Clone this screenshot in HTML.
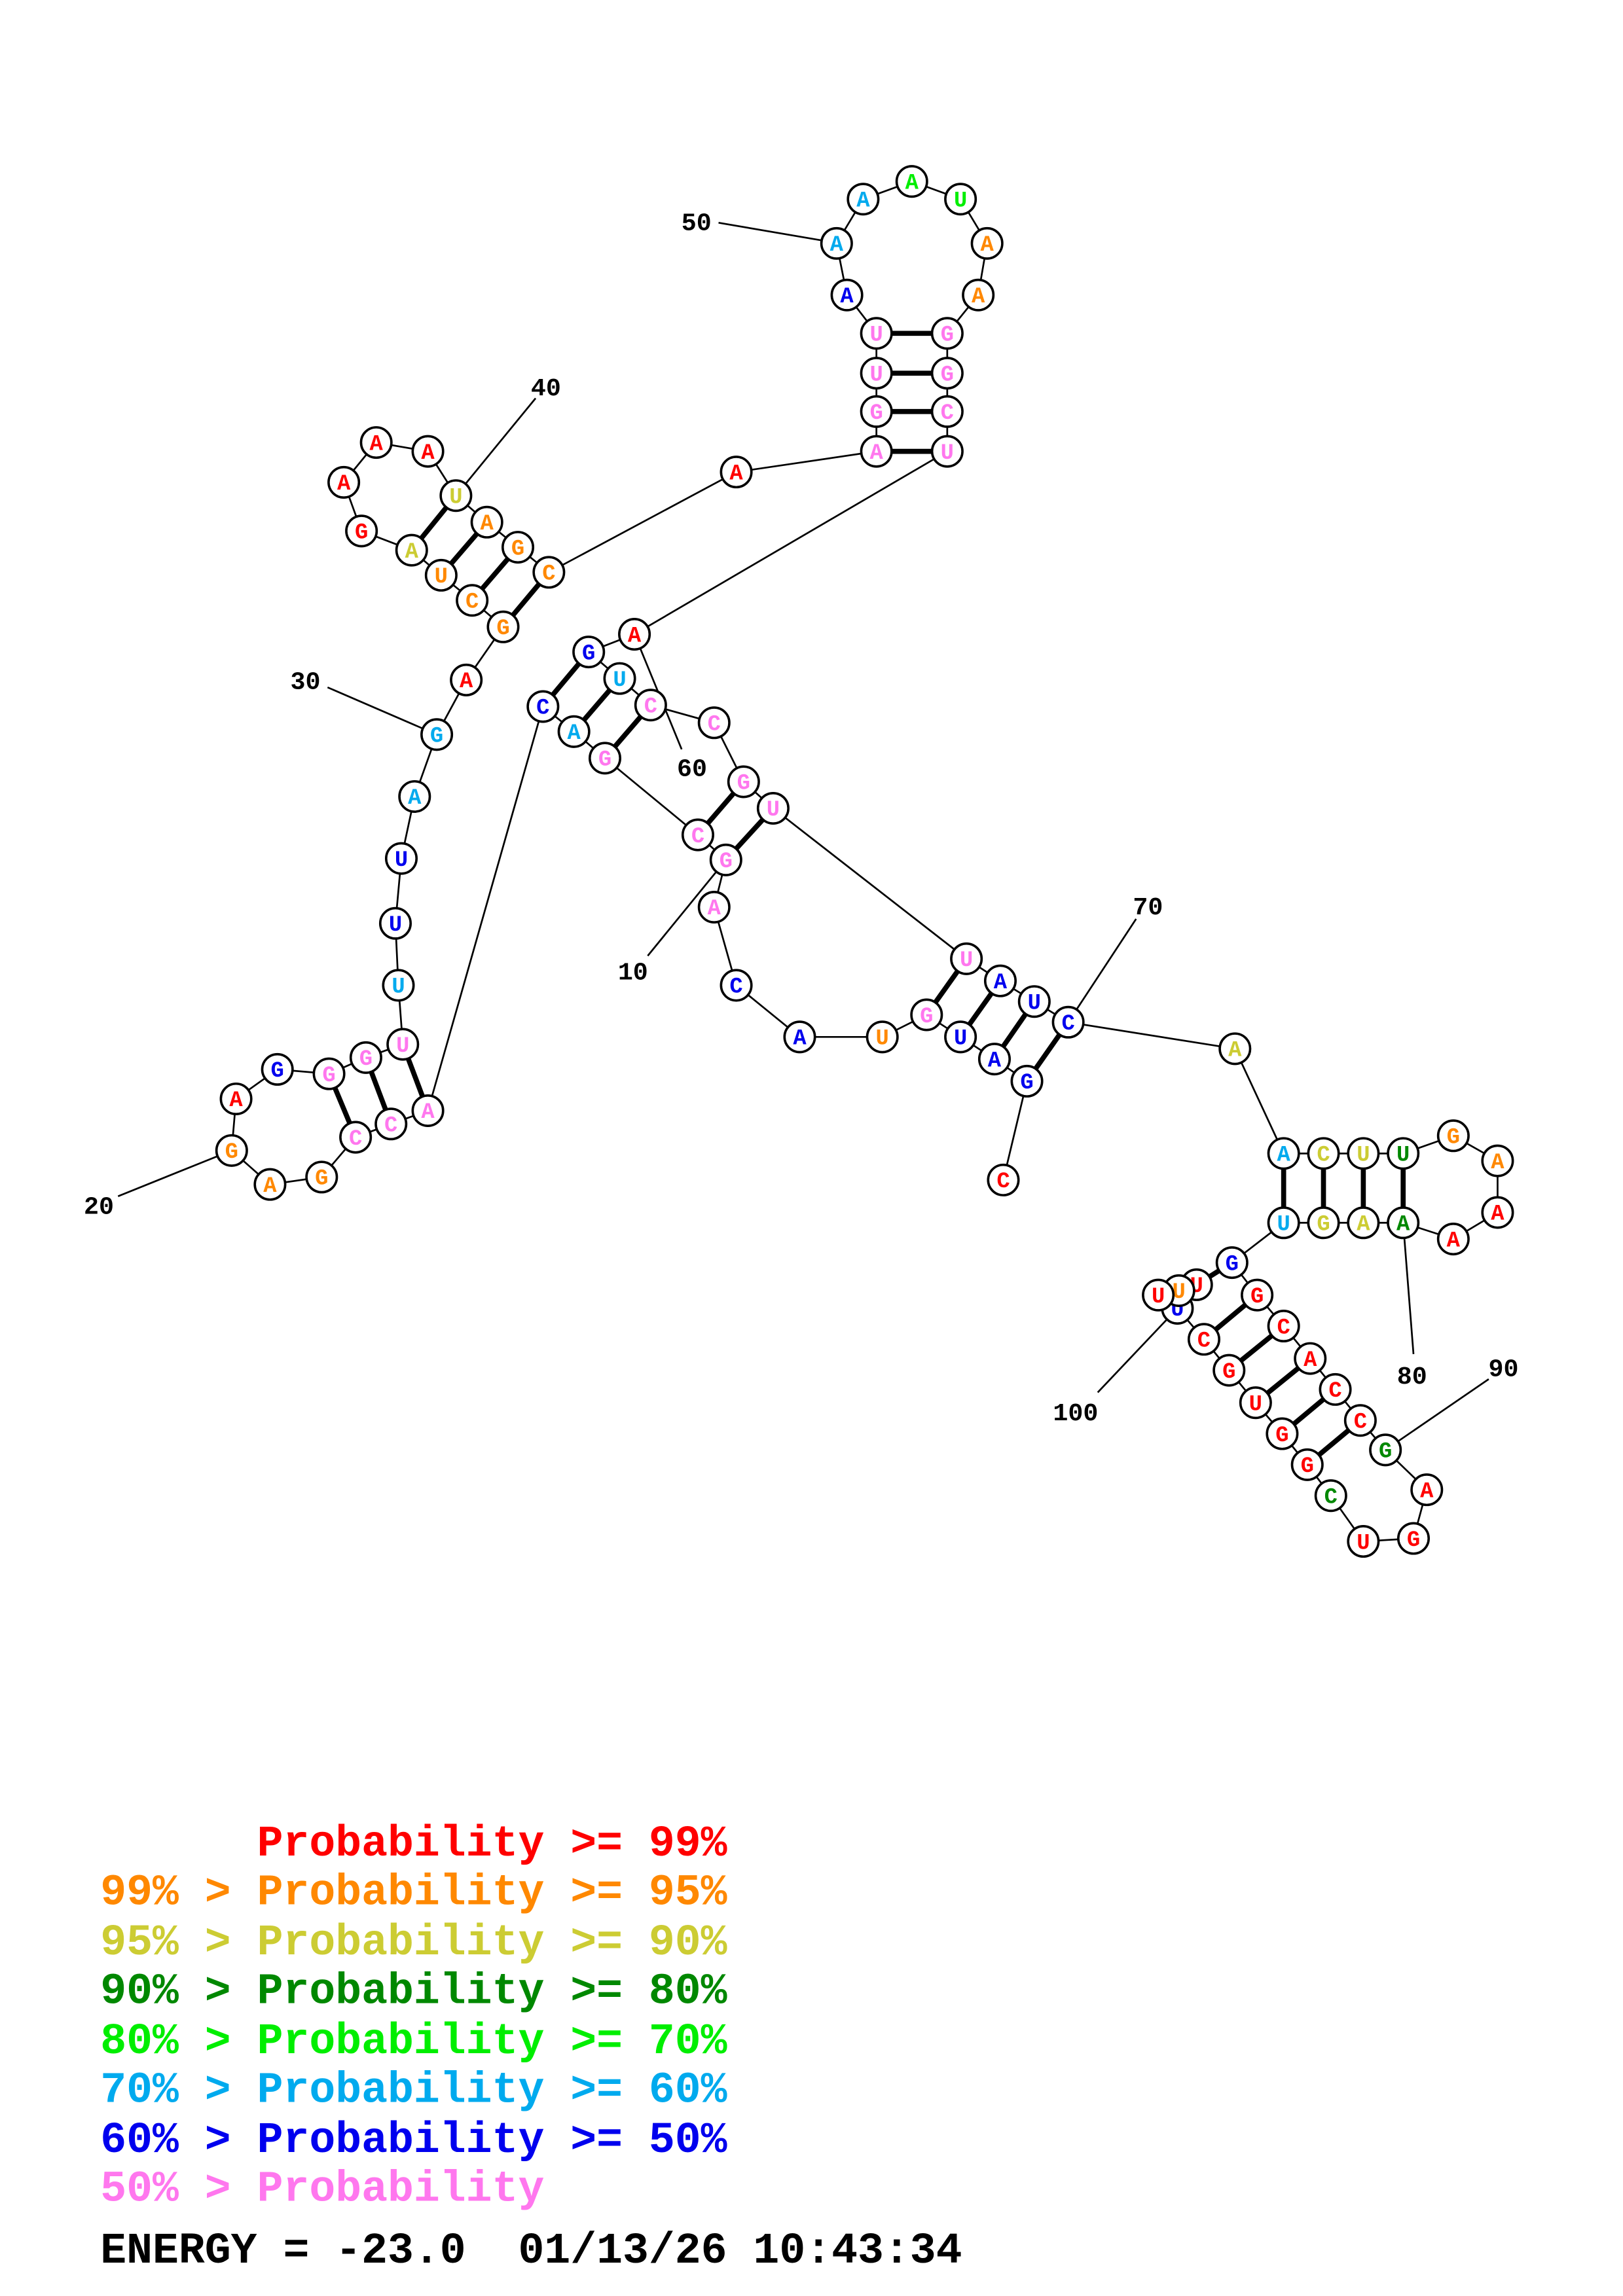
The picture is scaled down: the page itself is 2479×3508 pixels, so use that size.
<!DOCTYPE html>
<html><head><meta charset="utf-8"><style>
html,body{margin:0;padding:0;background:#fff}
svg{display:block}
.n circle{fill:#fff;stroke:#000;stroke-width:1.6}
.n text{font-family:"Liberation Mono",monospace;font-weight:bold;font-size:15px;text-anchor:middle}
.lb{font-family:"Liberation Mono",monospace;font-weight:bold;font-size:17px;text-anchor:middle;fill:#000}
.lg{font-family:"Liberation Mono",monospace;font-weight:bold;font-size:29.5px}
</style></head><body>
<svg width="2479" height="3508" viewBox="0 0 1100 1556.6" xmlns="http://www.w3.org/2000/svg">
<rect width="1100" height="1556.6" fill="#fff"/>
<g transform="translate(-3,-2)">
<g stroke="#000" stroke-width="1.2" fill="none">
<polyline points="683,802 699,735 677,720 654,705 631,690 601,705 545,705 502,670 487,617 495,585 476,568 413,516 392,498 371,481 293,755 268,764 244,773 221,800 186,805 160,782 163,747 191,727 226,730 251,719 276,710 273,670 271,628 275,584 284,542 299,500 319,463 344,427 323,409 302,392 282,375 248,362 236,329 258,302 293,308 312,338 333,356 354,373 375,390 502,322 597,308 597,281 597,255 597,228 577,202 570,167 588,137 621,125 654,137 672,167 666,202 645,228 645,255 645,281 645,308 433,432 402,444 423,462 444,480 487,492 507,532 527,550 658,652 681,667 704,681 727,695 840,713 873,784 900,784 927,784 954,784 988,772 1018,789 1018,824 988,842 954,831 927,831 900,831 873,831 838,858 855,880 873,901 891,923 908,944 925,965 942,985 970,1012 961,1045 927,1047 905,1016 889,995 872,974 854,953 836,931 819,910 801,889 788,880 802,877 814,873"/>
<line x1="490" y1="153" x2="560" y2="165"/>
<line x1="366" y1="272" x2="312" y2="338"/>
<line x1="225" y1="468" x2="299" y2="500"/>
<line x1="83" y1="813" x2="160" y2="782"/>
<line x1="442" y1="650" x2="495" y2="585"/>
<line x1="465" y1="510" x2="433" y2="432"/>
<line x1="773" y1="625" x2="727" y2="695"/>
<line x1="961" y1="920" x2="954" y2="831"/>
<line x1="1012" y1="937" x2="942" y2="985"/>
<line x1="747" y1="946" x2="801" y2="889"/>
</g>
<g stroke="#000" stroke-width="3.4">
<line x1="312" y1="338" x2="282" y2="375"/><line x1="333" y1="356" x2="302" y2="392"/><line x1="354" y1="373" x2="323" y2="409"/><line x1="375" y1="390" x2="344" y2="427"/>
<line x1="597" y1="308" x2="645" y2="308"/><line x1="597" y1="281" x2="645" y2="281"/><line x1="597" y1="255" x2="645" y2="255"/><line x1="597" y1="228" x2="645" y2="228"/>
<line x1="413" y1="516" x2="444" y2="480"/><line x1="392" y1="498" x2="423" y2="462"/><line x1="371" y1="481" x2="402" y2="444"/>
<line x1="495" y1="585" x2="527" y2="550"/><line x1="476" y1="568" x2="507" y2="532"/>
<line x1="699" y1="735" x2="727" y2="695"/><line x1="677" y1="720" x2="704" y2="681"/><line x1="654" y1="705" x2="681" y2="667"/><line x1="631" y1="690" x2="658" y2="652"/>
<line x1="293" y1="755" x2="276" y2="710"/><line x1="268" y1="764" x2="251" y2="719"/><line x1="244" y1="773" x2="226" y2="730"/>
<line x1="873" y1="784" x2="873" y2="831"/><line x1="900" y1="784" x2="900" y2="831"/><line x1="927" y1="784" x2="927" y2="831"/><line x1="954" y1="784" x2="954" y2="831"/>
<line x1="855" y1="880" x2="819" y2="910"/><line x1="873" y1="901" x2="836" y2="931"/><line x1="891" y1="923" x2="854" y2="953"/><line x1="908" y1="944" x2="872" y2="974"/><line x1="925" y1="965" x2="889" y2="995"/>
<line x1="838" y1="858" x2="814" y2="873"/>
</g>
<g class="n">
<g fill="#f00"><circle cx="683" cy="802" r="10.3"/><text x="683" y="807" >C</text></g>
<g fill="#00e"><circle cx="699" cy="735" r="10.3"/><text x="699" y="740">G</text></g>
<g fill="#00e"><circle cx="677" cy="720" r="10.3"/><text x="677" y="725">A</text></g>
<g fill="#00e"><circle cx="654" cy="705" r="10.3"/><text x="654" y="710">U</text></g>
<g fill="#f7e"><circle cx="631" cy="690" r="10.3"/><text x="631" y="695">G</text></g>
<g fill="#f80"><circle cx="601" cy="705" r="10.3"/><text x="601" y="710">U</text></g>
<g fill="#00e"><circle cx="545" cy="705" r="10.3"/><text x="545" y="710">A</text></g>
<g fill="#00e"><circle cx="502" cy="670" r="10.3"/><text x="502" y="675">C</text></g>
<g fill="#f7e"><circle cx="487" cy="617" r="10.3"/><text x="487" y="622">A</text></g>
<g fill="#f7e"><circle cx="495" cy="585" r="10.3"/><text x="495" y="590">G</text></g>
<g fill="#f7e"><circle cx="476" cy="568" r="10.3"/><text x="476" y="573">C</text></g>
<g fill="#f7e"><circle cx="413" cy="516" r="10.3"/><text x="413" y="521">G</text></g>
<g fill="#0ae"><circle cx="392" cy="498" r="10.3"/><text x="392" y="503">A</text></g>
<g fill="#00e"><circle cx="371" cy="481" r="10.3"/><text x="371" y="486">C</text></g>
<g fill="#f7e"><circle cx="293" cy="755" r="10.3"/><text x="293" y="760">A</text></g>
<g fill="#f7e"><circle cx="268" cy="764" r="10.3"/><text x="268" y="769">C</text></g>
<g fill="#f7e"><circle cx="244" cy="773" r="10.3"/><text x="244" y="778">C</text></g>
<g fill="#f80"><circle cx="221" cy="800" r="10.3"/><text x="221" y="805">G</text></g>
<g fill="#f80"><circle cx="186" cy="805" r="10.3"/><text x="186" y="810">A</text></g>
<g fill="#f80"><circle cx="160" cy="782" r="10.3"/><text x="160" y="787">G</text></g>
<g fill="#f00"><circle cx="163" cy="747" r="10.3"/><text x="163" y="752">A</text></g>
<g fill="#00e"><circle cx="191" cy="727" r="10.3"/><text x="191" y="732">G</text></g>
<g fill="#f7e"><circle cx="226" cy="730" r="10.3"/><text x="226" y="735">G</text></g>
<g fill="#f7e"><circle cx="251" cy="719" r="10.3"/><text x="251" y="724">G</text></g>
<g fill="#f7e"><circle cx="276" cy="710" r="10.3"/><text x="276" y="715">U</text></g>
<g fill="#0ae"><circle cx="273" cy="670" r="10.3"/><text x="273" y="675">U</text></g>
<g fill="#00e"><circle cx="271" cy="628" r="10.3"/><text x="271" y="633">U</text></g>
<g fill="#00e"><circle cx="275" cy="584" r="10.3"/><text x="275" y="589">U</text></g>
<g fill="#0ae"><circle cx="284" cy="542" r="10.3"/><text x="284" y="547">A</text></g>
<g fill="#0ae"><circle cx="299" cy="500" r="10.3"/><text x="299" y="505">G</text></g>
<g fill="#f00"><circle cx="319" cy="463" r="10.3"/><text x="319" y="468">A</text></g>
<g fill="#f80"><circle cx="344" cy="427" r="10.3"/><text x="344" y="432">G</text></g>
<g fill="#f80"><circle cx="323" cy="409" r="10.3"/><text x="323" y="414">C</text></g>
<g fill="#f80"><circle cx="302" cy="392" r="10.3"/><text x="302" y="397">U</text></g>
<g fill="#cc3"><circle cx="282" cy="375" r="10.3"/><text x="282" y="380">A</text></g>
<g fill="#f00"><circle cx="248" cy="362" r="10.3"/><text x="248" y="367">G</text></g>
<g fill="#f00"><circle cx="236" cy="329" r="10.3"/><text x="236" y="334">A</text></g>
<g fill="#f00"><circle cx="258" cy="302" r="10.3"/><text x="258" y="307">A</text></g>
<g fill="#f00"><circle cx="293" cy="308" r="10.3"/><text x="293" y="313">A</text></g>
<g fill="#cc3"><circle cx="312" cy="338" r="10.3"/><text x="312" y="343">U</text></g>
<g fill="#f80"><circle cx="333" cy="356" r="10.3"/><text x="333" y="361">A</text></g>
<g fill="#f80"><circle cx="354" cy="373" r="10.3"/><text x="354" y="378">G</text></g>
<g fill="#f80"><circle cx="375" cy="390" r="10.3"/><text x="375" y="395">C</text></g>
<g fill="#f00"><circle cx="502" cy="322" r="10.3"/><text x="502" y="327">A</text></g>
<g fill="#f7e"><circle cx="597" cy="308" r="10.3"/><text x="597" y="313">A</text></g>
<g fill="#f7e"><circle cx="597" cy="281" r="10.3"/><text x="597" y="286">G</text></g>
<g fill="#f7e"><circle cx="597" cy="255" r="10.3"/><text x="597" y="260">U</text></g>
<g fill="#f7e"><circle cx="597" cy="228" r="10.3"/><text x="597" y="233">U</text></g>
<g fill="#00e"><circle cx="577" cy="202" r="10.3"/><text x="577" y="207">A</text></g>
<g fill="#0ae"><circle cx="570" cy="167" r="10.3"/><text x="570" y="172">A</text></g>
<g fill="#0ae"><circle cx="588" cy="137" r="10.3"/><text x="588" y="142">A</text></g>
<g fill="#0e0"><circle cx="621" cy="125" r="10.3"/><text x="621" y="130">A</text></g>
<g fill="#0e0"><circle cx="654" cy="137" r="10.3"/><text x="654" y="142">U</text></g>
<g fill="#f80"><circle cx="672" cy="167" r="10.3"/><text x="672" y="172">A</text></g>
<g fill="#f80"><circle cx="666" cy="202" r="10.3"/><text x="666" y="207">A</text></g>
<g fill="#f7e"><circle cx="645" cy="228" r="10.3"/><text x="645" y="233">G</text></g>
<g fill="#f7e"><circle cx="645" cy="255" r="10.3"/><text x="645" y="260">G</text></g>
<g fill="#f7e"><circle cx="645" cy="281" r="10.3"/><text x="645" y="286">C</text></g>
<g fill="#f7e"><circle cx="645" cy="308" r="10.3"/><text x="645" y="313">U</text></g>
<g fill="#f00"><circle cx="433" cy="432" r="10.3"/><text x="433" y="437">A</text></g>
<g fill="#00e"><circle cx="402" cy="444" r="10.3"/><text x="402" y="449">G</text></g>
<g fill="#0ae"><circle cx="423" cy="462" r="10.3"/><text x="423" y="467">U</text></g>
<g fill="#f7e"><circle cx="444" cy="480" r="10.3"/><text x="444" y="485">C</text></g>
<g fill="#f7e"><circle cx="487" cy="492" r="10.3"/><text x="487" y="497">C</text></g>
<g fill="#f7e"><circle cx="507" cy="532" r="10.3"/><text x="507" y="537">G</text></g>
<g fill="#f7e"><circle cx="527" cy="550" r="10.3"/><text x="527" y="555">U</text></g>
<g fill="#f7e"><circle cx="658" cy="652" r="10.3"/><text x="658" y="657">U</text></g>
<g fill="#00e"><circle cx="681" cy="667" r="10.3"/><text x="681" y="672">A</text></g>
<g fill="#00e"><circle cx="704" cy="681" r="10.3"/><text x="704" y="686">U</text></g>
<g fill="#00e"><circle cx="727" cy="695" r="10.3"/><text x="727" y="700">C</text></g>
<g fill="#cc3"><circle cx="840" cy="713" r="10.3"/><text x="840" y="718">A</text></g>
<g fill="#0ae"><circle cx="873" cy="784" r="10.3"/><text x="873" y="789">A</text></g>
<g fill="#cc3"><circle cx="900" cy="784" r="10.3"/><text x="900" y="789">C</text></g>
<g fill="#cc3"><circle cx="927" cy="784" r="10.3"/><text x="927" y="789">U</text></g>
<g fill="#080"><circle cx="954" cy="784" r="10.3"/><text x="954" y="789">U</text></g>
<g fill="#f80"><circle cx="988" cy="772" r="10.3"/><text x="988" y="777">G</text></g>
<g fill="#f80"><circle cx="1018" cy="789" r="10.3"/><text x="1018" y="794">A</text></g>
<g fill="#f00"><circle cx="1018" cy="824" r="10.3"/><text x="1018" y="829">A</text></g>
<g fill="#f00"><circle cx="988" cy="842" r="10.3"/><text x="988" y="847">A</text></g>
<g fill="#080"><circle cx="954" cy="831" r="10.3"/><text x="954" y="836">A</text></g>
<g fill="#cc3"><circle cx="927" cy="831" r="10.3"/><text x="927" y="836">A</text></g>
<g fill="#cc3"><circle cx="900" cy="831" r="10.3"/><text x="900" y="836">G</text></g>
<g fill="#0ae"><circle cx="873" cy="831" r="10.3"/><text x="873" y="836">U</text></g>
<g fill="#00e"><circle cx="838" cy="858" r="10.3"/><text x="838" y="863">G</text></g>
<g fill="#f00"><circle cx="855" cy="880" r="10.3"/><text x="855" y="885">G</text></g>
<g fill="#f00"><circle cx="873" cy="901" r="10.3"/><text x="873" y="906">C</text></g>
<g fill="#f00"><circle cx="891" cy="923" r="10.3"/><text x="891" y="928">A</text></g>
<g fill="#f00"><circle cx="908" cy="944" r="10.3"/><text x="908" y="949">C</text></g>
<g fill="#f00"><circle cx="925" cy="965" r="10.3"/><text x="925" y="970">C</text></g>
<g fill="#080"><circle cx="942" cy="985" r="10.3"/><text x="942" y="990">G</text></g>
<g fill="#f00"><circle cx="970" cy="1012" r="10.3"/><text x="970" y="1017">A</text></g>
<g fill="#f00"><circle cx="961" cy="1045" r="10.3"/><text x="961" y="1050">G</text></g>
<g fill="#f00"><circle cx="927" cy="1047" r="10.3"/><text x="927" y="1052">U</text></g>
<g fill="#080"><circle cx="905" cy="1016" r="10.3"/><text x="905" y="1021">C</text></g>
<g fill="#f00"><circle cx="889" cy="995" r="10.3"/><text x="889" y="1000">G</text></g>
<g fill="#f00"><circle cx="872" cy="974" r="10.3"/><text x="872" y="979">G</text></g>
<g fill="#f00"><circle cx="854" cy="953" r="10.3"/><text x="854" y="958">U</text></g>
<g fill="#f00"><circle cx="836" cy="931" r="10.3"/><text x="836" y="936">G</text></g>
<g fill="#f00"><circle cx="819" cy="910" r="10.3"/><text x="819" y="915">C</text></g>
<g fill="#f00"><circle cx="814" cy="873" r="10.3"/><text x="814" y="878">U</text></g>
<g fill="#00e"><circle cx="801" cy="889" r="10.3"/><text x="801" y="894">U</text></g>
<g fill="#f80"><circle cx="802" cy="877" r="10.3"/><text x="802" y="882">U</text></g>
<g fill="#f00"><circle cx="788" cy="880" r="10.3"/><text x="788" y="885">U</text></g>
</g>
<g class="lb">
<text x="475" y="158">50</text>
<text x="373" y="270">40</text>
<text x="210" y="469">30</text>
<text x="70" y="825">20</text>
<text x="432" y="666">10</text>
<text x="472" y="528">60</text>
<text x="781" y="622">70</text>
<text x="960" y="940">80</text>
<text x="1022" y="935">90</text>
<text x="732" y="965">100</text>
</g>
</g>
<g class="lg">
<text x="68" y="1258" fill="#f00">&#160;&#160;&#160;&#160;&#160;&#160;Probability&#160;&gt;=&#160;99%</text>
<text x="68" y="1291" fill="#f80">99%&#160;&gt;&#160;Probability&#160;&gt;=&#160;95%</text>
<text x="68" y="1325" fill="#cc3">95%&#160;&gt;&#160;Probability&#160;&gt;=&#160;90%</text>
<text x="68" y="1358" fill="#080">90%&#160;&gt;&#160;Probability&#160;&gt;=&#160;80%</text>
<text x="68" y="1392" fill="#0e0">80%&#160;&gt;&#160;Probability&#160;&gt;=&#160;70%</text>
<text x="68" y="1425" fill="#0ae">70%&#160;&gt;&#160;Probability&#160;&gt;=&#160;60%</text>
<text x="68" y="1459" fill="#00e">60%&#160;&gt;&#160;Probability&#160;&gt;=&#160;50%</text>
<text x="68" y="1492" fill="#f7e">50%&#160;&gt;&#160;Probability</text>
<text x="68" y="1534" fill="#000">ENERGY&#160;=&#160;-23.0&#160;&#160;01/13/26&#160;10:43:34</text>
</g>
</svg>
</body></html>
